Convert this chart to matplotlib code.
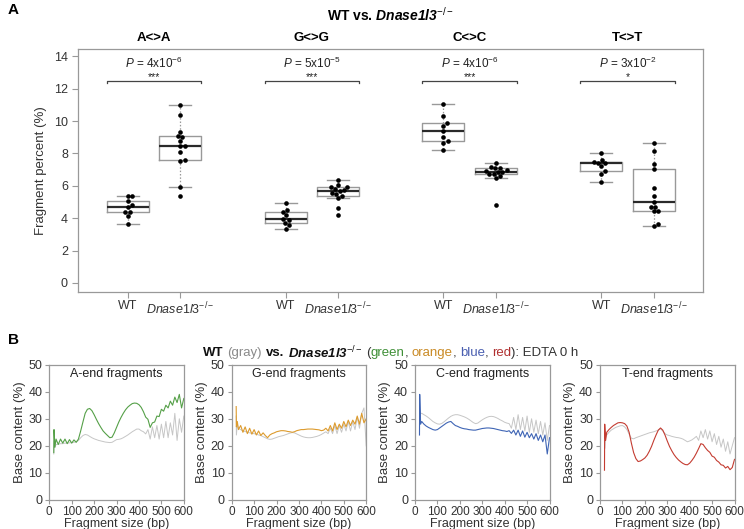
import numpy as np
import matplotlib
matplotlib.use('Agg')
import matplotlib.pyplot as plt
from matplotlib import font_manager

installed = {f.name for f in font_manager.fontManager.ttflist}
NARROW = 'Liberation Sans Narrow' if 'Liberation Sans Narrow' in installed else 'Liberation Sans'

plt.rcParams['font.family'] = ['Liberation Sans', 'DejaVu Sans']
plt.rcParams['mathtext.fontset'] = 'custom'
plt.rcParams['mathtext.rm'] = 'Liberation Sans'
plt.rcParams['mathtext.it'] = 'Liberation Sans:italic'
plt.rcParams['mathtext.bf'] = 'Liberation Sans:bold'
plt.rcParams['mathtext.bfit'] = 'Liberation Sans:italic:bold'

# ---------------- panel A data ----------------
groups = ['A<>A', 'G<>G', 'C<>C', 'T<>T']
p_labels = ['4x10$^{-6}$', '5x10$^{-5}$', '4x10$^{-6}$', '3x10$^{-2}$']
stars = ['***', '***', '***', '*']

wt_A = [3.66, 4.14, 4.39, 4.39, 4.66, 4.80, 5.07, 5.38, 5.38]
ko_A = [5.40, 5.90, 7.56, 7.60, 8.07, 8.45, 8.45, 8.74, 9.00, 9.05, 9.32, 10.35, 10.97]
wt_G = [3.35, 3.56, 3.73, 3.89, 3.98, 4.18, 4.39, 4.51, 4.93]
ko_G = [4.18, 4.62, 5.24, 5.40, 5.50, 5.56, 5.70, 5.73, 5.80, 5.90, 5.94, 6.02, 6.36]
wt_C = [8.24, 8.63, 8.74, 9.00, 9.38, 9.69, 9.88, 10.31, 11.03]
ko_C = [4.80, 6.46, 6.58, 6.71, 6.73, 6.85, 6.88, 6.94, 6.96, 7.08, 7.12, 7.18, 7.41]
wt_T = [6.21, 6.73, 6.90, 7.20, 7.38, 7.42, 7.45, 7.62, 8.01]
ko_T = [3.52, 3.66, 4.45, 4.47, 4.66, 4.72, 5.01, 5.34, 5.86, 7.04, 7.35, 8.18, 8.65]

# ---------------- panel B data ----------------
bp = [20, 21, 25] + list(range(30, 601, 10))
end_titles = ['A-end fragments', 'G-end fragments', 'C-end fragments', 'T-end fragments']
ko_colors = ['#55a048', '#dd9b2d', '#3f65b5', '#c43c31']

wt_A_end = [17, 22, 19.5,
            20.5, 20.6, 20.8, 20.8, 21, 21, 21.1, 21.2, 21.3, 21.5,
            22, 23, 23.8, 24.2, 24, 23.5, 23, 22.6, 22.3, 22,
            21.8, 21.6, 21.4, 21.3, 21.2, 21.3, 21.8, 22.3, 22.4, 22.6,
            23, 23.5, 24, 24.6, 25.2, 25.7, 26.2, 26.2, 25.6, 25.2,
            24.4, 26, 22.5, 27, 23, 27.5, 22.5, 28, 23, 29,
            23, 28.5, 24, 32, 22, 30, 25, 31]
ko_A_end = [17.5, 26, 19.5,
            22.5, 20.5, 22.5, 21, 22.5, 20.8, 22.3, 21, 22.2, 21.3,
            22.5, 25.5, 28.8, 32, 33.5, 33.8, 33, 31.5, 29.8, 28.2,
            26.8, 25.5, 24.6, 23.8, 23, 23.2, 24.8, 26.8, 28.8, 30.5,
            32, 33.3, 34.3, 35, 35.6, 35.8, 35.7, 35.2, 34.2, 32.6,
            30.6, 29.8, 26.8, 28.5, 28.8, 31, 30.8, 33.5, 32.8, 35,
            34, 36.5, 35, 38, 36, 39, 34, 37.5]
wt_G_end = [31, 24, 28,
            26.5, 26, 25.5, 25.3, 25, 24.8, 24.6, 24.5, 24.3, 24,
            23.8, 23.4, 23, 22.6, 22.4, 22.5, 22.8, 23.1, 23.4, 23.6,
            23.8, 24.1, 24.4, 24.7, 24.9, 24.8, 24.4, 24, 23.6, 23.3,
            23.1, 23, 23, 23.1, 23.3, 23.5, 23.8, 24.2, 24.7, 25.2,
            24.5, 26.5, 24.5, 27.5, 24.5, 27.5, 25, 28, 25.5, 29,
            25.5, 29, 26, 30.5, 26.5, 32, 34, 20]
ko_G_end = [34.5, 27, 29,
            26, 27.5, 25, 27, 24.5, 26.5, 24.3, 26, 24, 25.5,
            23.8, 24.8, 23.8, 23, 24, 24.5, 24.8, 25.2, 25.4, 25.6,
            25.6, 25.5, 25.3, 25.2, 25, 25.2, 25.6, 25.8, 26, 26,
            26.1, 26.2, 26.2, 26.2, 26.1, 26, 25.9, 25.6, 25.8, 26.5,
            25.5, 27.5, 25.5, 28.5, 26, 28, 26.5, 29, 27, 29.5,
            27.5, 29.5, 28, 31, 28, 32, 28.5, 30]
wt_C_end = [28, 33, 32,
            32, 31.5, 31, 30.4, 29.7, 29, 28.5, 28.1, 28, 28.3,
            28.9, 29.6, 30.3, 30.9, 31.3, 31.5, 31.5, 31.3, 31, 30.7,
            30.3, 29.8, 29.2, 28.6, 28.2, 28.4, 29, 29.6, 30.1, 30.5,
            30.8, 30.9, 30.8, 30.5, 30.1, 29.6, 29.2, 28.7, 28.4, 28.2,
            26.5, 30.5, 26, 31.5, 26, 30.5, 25.5, 31, 25, 30,
            25, 29.5, 24.5, 29, 24, 28.5, 22, 27.5]
ko_C_end = [24, 39, 28,
            29, 28, 27.3, 26.8, 26.4, 26, 25.8, 26, 26.6, 27.2,
            27.8, 28.4, 28.8, 29, 28.2, 27.5, 27.2, 26.8, 26.5, 26.3,
            26.2, 26, 25.9, 25.8, 25.8, 26, 26.2, 26.4, 26.5, 26.6,
            26.6, 26.5, 26.4, 26.2, 26, 25.8, 25.6, 25.5, 25.3, 25.6,
            24.6, 25.8, 24, 25.8, 23.5, 25.5, 23.2, 25, 23, 24.5,
            22.5, 24.5, 22, 24, 21.5, 24, 17, 23]
wt_T_end = [22, 19, 23,
            24, 25, 25.8, 26.3, 26.8, 27.1, 27.4, 27.5, 27, 26,
            24.3, 22.8, 22.6, 23, 23.3, 23.6, 23.9, 24.2, 24.5, 24.8,
            25, 25.2, 25.5, 25.8, 26.3, 25.5, 24.5, 24, 23.8, 23.5,
            23.3, 23.1, 23, 22.8, 22.5, 22, 21.5, 21.8, 22.2, 22.8,
            23.5, 22, 25.5, 23, 26, 22.5, 25.5, 21.5, 24.5, 20.5,
            23.5, 19.5, 22.5, 18, 21.5, 17, 20, 23]
ko_T_end = [11, 28, 22,
            25, 26, 26.8, 27.5, 28, 28.5, 28.6, 28.5, 28.2, 27.3,
            25, 21, 17.5, 15.3, 14.2, 14.4, 14.9, 15.5, 16.5, 18,
            19.8, 22, 24, 25.8, 26.6, 25.8, 24, 21.8, 19.8, 18.2,
            16.8, 15.7, 14.8, 14.1, 13.5, 13.1, 13, 13.6, 14.6, 15.8,
            17.3, 19, 20.8, 20.5, 19.3, 18.3, 17.6, 16.2, 15.8, 14.6,
            14, 13, 12.8, 11.8, 12.4, 11.2, 12, 15]

GRAY = '#999999'
TXT = '#333333'


def swarm(ax, x0, ys, d=4.6):
    # simple beeswarm in pixel space
    pts = ax.transData.transform(np.column_stack([np.full(len(ys), x0), ys]))
    xpix0 = pts[0, 0]
    placed = []
    offs = np.zeros(len(ys))
    for i in np.argsort(pts[:, 1]):
        y = pts[i, 1]
        cands = [0.0]
        for px, py in placed:
            dy = abs(y - py)
            if dy < d:
                dx = np.sqrt(d * d - dy * dy)
                cands += [px + dx, px - dx]
        cands.sort(key=abs)
        for c in cands:
            if all((c - px) ** 2 + (y - py) ** 2 >= d * d - 1e-6 for px, py in placed):
                break
        placed.append((c, y))
        offs[i] = c
    inv = ax.transData.inverted()
    return inv.transform(np.column_stack([xpix0 + offs, pts[:, 1]]))[:, 0]


fig = plt.figure(figsize=(7.44, 5.29), dpi=100)

# ================= panel A =================
ax = fig.add_axes([78.3 / 744, 1 - 292 / 529, 625 / 744, 243 / 529])
data = [wt_A, ko_A, wt_G, ko_G, wt_C, ko_C, wt_T, ko_T]
pos = [1, 2, 4, 5, 7, 8, 10, 11]
ax.set_xlim(0.06, 11.94)
ax.set_ylim(-0.56, 14.45)
ax.boxplot(data, positions=pos, widths=0.8, showfliers=False, whis=1.5,
           capwidths=0.42,
           boxprops=dict(color=GRAY, lw=1),
           whiskerprops=dict(color=GRAY, lw=0.9, ls=(0, (1.2, 1.5))),
           capprops=dict(color=GRAY, lw=1),
           medianprops=dict(color='#2a2a2a', lw=1.6))
for p, ys in zip(pos, data):
    xs = swarm(ax, p, ys)
    ax.scatter(xs, ys, s=11, color='black', zorder=5, lw=0)

ax.set_xticks(pos)
ax.set_xticklabels(['WT', r'$\mathit{Dnase1l3}^{-/-}$'] * 4, fontsize=9, color=TXT)
ax.set_yticks(range(0, 15, 2))
ax.tick_params(axis='y', labelsize=9, labelcolor=TXT, color=GRAY, length=4, width=0.8)
ax.tick_params(axis='x', color=GRAY, length=4, width=0.8, pad=2)
for s in ax.spines.values():
    s.set_color(GRAY)
    s.set_linewidth(0.9)
ax.set_ylabel('Fragment percent (%)', fontsize=9.5, color=TXT, labelpad=5)

bx = ax.get_xaxis_transform()
for k, g in enumerate(groups):
    c = pos[2 * k] + 0.5
    ax.text(c, 1.045, g, transform=bx, ha='center', va='center',
            fontsize=9.5, fontweight='bold', family=NARROW)
    ax.text(c, 13.55, r'$\mathit{P}$ = ' + p_labels[k], ha='center', va='center',
            fontsize=8.5, family=NARROW, color='#222222')
    ax.text(c, 12.55, stars[k], ha='center', va='baseline', fontsize=7.5, color='#222222')
    l, r = pos[2 * k] - 0.4, pos[2 * k + 1] + 0.4
    ax.plot([l, l, r, r], [12.35, 12.5, 12.5, 12.35], color='#444444', lw=0.9)

ax.text(0.5, 1.14, r'WT vs. $\mathbfit{Dnase1l3}^{-/-}$', transform=ax.transAxes,
        ha='center', va='center', fontsize=10, fontweight='bold', family=NARROW)
fig.text(8 / 744, 1 - 10 / 529, 'A', fontsize=11, fontweight='bold', va='center')
fig.text(8 / 744, 1 - 340 / 529, 'B', fontsize=11, fontweight='bold', va='center')

# ================= panel B =================
wt_curves = [wt_A_end, wt_G_end, wt_C_end, wt_T_end]
ko_curves = [ko_A_end, ko_G_end, ko_C_end, ko_T_end]
lefts = [49.3, 231.7, 415, 600]
for k in range(4):
    a = fig.add_axes([lefts[k] / 744, 1 - 500 / 529, 134.5 / 744, 135.4 / 529])
    a.plot(bp, wt_curves[k], color='#c6c6c6', lw=0.7)
    a.plot(bp, ko_curves[k], color=ko_colors[k], lw=0.8)
    a.set_xlim(0, 600)
    a.set_ylim(0, 50)
    a.set_xticks(range(0, 601, 100))
    a.set_yticks(range(0, 51, 10))
    a.tick_params(axis='y', labelsize=9, labelcolor=TXT, color=GRAY, length=3, width=0.8, pad=2)
    a.tick_params(axis='x', labelsize=8.5, labelcolor=TXT, color=GRAY, length=3, width=0.8, pad=1)
    for s in a.spines.values():
        s.set_color(GRAY)
        s.set_linewidth(0.9)
    a.set_ylabel('Base content (%)', fontsize=9.5, color=TXT, labelpad=2)
    a.set_xlabel('Fragment size (bp)', fontsize=9, color=TXT, labelpad=0)
    a.text(0.5, 0.93, end_titles[k], transform=a.transAxes, ha='center', va='center',
           fontsize=9, color='#222222')

# colored title for panel B
pieces = [('WT', '#111111', 'bold', 0),
          ('(gray)', '#8a8a8a', 'normal', 1),
          ('vs.', '#111111', 'bold', 1),
          (r'$\mathbfit{Dnase1l3}^{-/-}$', '#111111', 'bold', 1),
          ('(', '#333333', 'normal', 1),
          ('green', '#3f8f37', 'normal', 0),
          (',', '#333333', 'normal', 0),
          ('orange', '#c98a25', 'normal', 1),
          (',', '#333333', 'normal', 0),
          ('blue', '#4a5fb0', 'normal', 1),
          (',', '#333333', 'normal', 0),
          ('red', '#b03030', 'normal', 1),
          ('): EDTA 0 h', '#333333', 'normal', 0)]
rend = fig.canvas.get_renderer()
ty = 1 - 353 / 529
texts = []
for s, col, w, sp in pieces:
    texts.append(fig.text(0, ty, s, color=col, fontweight=w, fontsize=9.5,
                          family=NARROW, va='center'))
sp_t = fig.text(0, ty, 'n n', fontsize=9.5, family=NARROW)
nn_t = fig.text(0, ty, 'nn', fontsize=9.5, family=NARROW)
space = sp_t.get_window_extent(rend).width - nn_t.get_window_extent(rend).width
sp_t.remove()
nn_t.remove()
widths = [t.get_window_extent(rend).width for t in texts]
total = sum(widths) + space * sum(p[3] for p in pieces)
x = 391 - total / 2
for t, wd, p in zip(texts, widths, pieces):
    x += space * p[3]
    t.set_x(x / 744)
    x += wd

fig.savefig('out.png', dpi=100)
